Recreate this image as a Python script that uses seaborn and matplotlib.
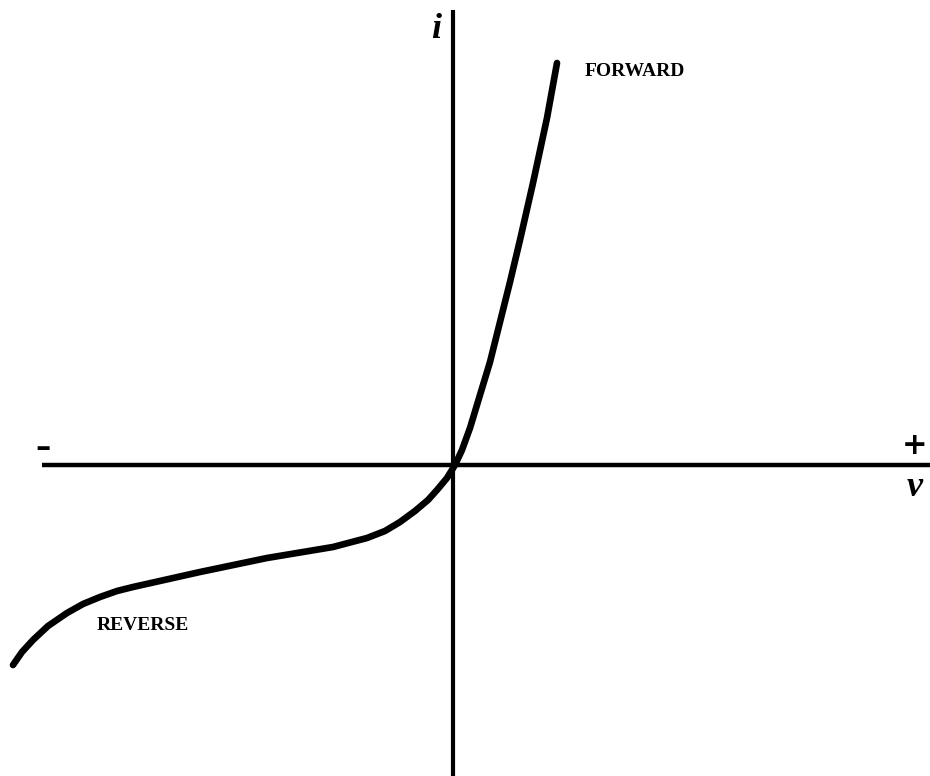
import numpy as np
import pandas as pd
import matplotlib
matplotlib.use('Agg')
import matplotlib.pyplot as plt
import seaborn as sns

# diode characteristic (arbitrary units)
voltage = [-4.42, -4.33, -4.22, -4.07, -3.88, -3.72, -3.55, -3.38, -3.22, -2.55,
           -1.88, -1.22, -0.88, -0.70, -0.55, -0.40, -0.27, -0.18, -0.08, 0.0,
           0.07, 0.15, 0.25, 0.35, 0.45, 0.55, 0.65, 0.78, 0.92, 1.02]
current = [-2.00, -1.87, -1.75, -1.61, -1.48, -1.39, -1.32, -1.26, -1.22, -1.07,
           -0.93, -0.82, -0.73, -0.66, -0.57, -0.46, -0.35, -0.25, -0.13, 0.0,
           0.15, 0.37, 0.70, 1.03, 1.43, 1.83, 2.25, 2.82, 3.47, 4.02]

df = pd.DataFrame({'v': voltage, 'i': current})

sns.set_style('white')

fig = plt.figure(figsize=(9.3, 7.76), dpi=100)
ax = fig.add_axes([0, 0, 1, 1])
ax.set_xlim(-4.55, 4.75)
ax.set_ylim(-3.11, 4.65)
ax.axis('off')

# axes of the sketch
ax.hlines(0, -4.13, 4.75, color='black', lw=3.2)
ax.vlines(-0.02, -3.11, 4.55, color='black', lw=3.0)

sns.lineplot(data=df, x='v', y='i', sort=False, estimator=None, color='black',
             lw=4.8, solid_capstyle='round', solid_joinstyle='round', ax=ax)

font = dict(family='Liberation Serif', weight='bold', color='black')
ax.text(1.30, 3.93, 'FORWARD', fontsize=14, va='center', ha='left', **font)
ax.text(-3.58, -1.61, 'REVERSE', fontsize=14, va='center', ha='left', **font)
ax.text(-4.12, 0.17, '\u2013', fontsize=22, va='center', ha='center',
        family='DejaVu Sans', weight='bold', color='black')
ax.text(4.60, 0.20, '+', fontsize=22, va='center', ha='center',
        family='DejaVu Sans', weight='bold', color='black')
ax.text(4.60, -0.22, 'v', fontsize=26, style='italic', va='center', ha='center', **font)
ax.text(-0.19, 4.35, 'i', fontsize=26, style='italic', va='center', ha='center', **font)

fig.savefig('out.png', dpi=100)
